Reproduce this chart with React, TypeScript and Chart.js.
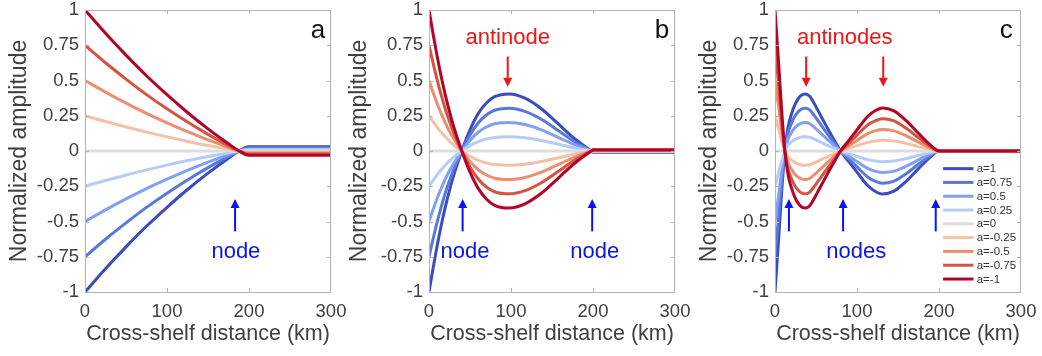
import React, { useEffect, useRef } from "react";
import { Chart, registerables } from "chart.js";
Chart.register(...registerables);

// ---------- data ----------
const seriesLabels = ["a=1", "a=0.75", "a=0.5", "a=0.25", "a=0", "a=-0.25", "a=-0.5", "a=-0.75", "a=-1"];
const seriesColors = [
  "rgb(59,76,192)",
  "rgb(88,120,222)",
  "rgb(128,160,242)",
  "rgb(180,204,246)",
  "rgb(221,221,221)",
  "rgb(244,192,168)",
  "rgb(236,142,112)",
  "rgb(212,84,66)",
  "rgb(180,4,38)",
];
const xTickLabels = ["0", "100", "200", "300"];
const yTickLabels = ["-1", "-0.75", "-0.5", "-0.25", "0", "0.25", "0.5", "0.75", "1"];

// Panel a
const xA = [0, 25, 50, 75, 100, 125, 150, 175, 188, 200, 300];
const a_p1 = [-1, -0.835, -0.68, -0.534, -0.399, -0.273, -0.157, -0.051, 0, 0.03, 0.03];
const a_p075 = [-0.75, -0.626, -0.51, -0.4, -0.299, -0.205, -0.118, -0.038, 0, 0.022, 0.022];
const a_p05 = [-0.5, -0.418, -0.34, -0.267, -0.2, -0.137, -0.079, -0.026, 0, 0.015, 0.015];
const a_p025 = [-0.25, -0.209, -0.17, -0.134, -0.1, -0.068, -0.039, -0.013, 0, 0.008, 0.008];
const a_0 = [0, 0, 0, 0, 0, 0, 0, 0, 0, 0, 0];
const a_m025 = [0.25, 0.209, 0.17, 0.134, 0.1, 0.068, 0.039, 0.013, 0, -0.008, -0.008];
const a_m05 = [0.5, 0.418, 0.34, 0.267, 0.2, 0.137, 0.079, 0.026, 0, -0.015, -0.015];
const a_m075 = [0.75, 0.626, 0.51, 0.4, 0.299, 0.205, 0.118, 0.038, 0, -0.022, -0.022];
const a_m1 = [1, 0.835, 0.68, 0.534, 0.399, 0.273, 0.157, 0.051, 0, -0.03, -0.03];

// Panel b
const xB = [0, 5, 10, 15, 20, 25, 30, 40, 50, 60, 70, 80, 98, 117, 137, 158, 178, 198, 200, 300];
const b_p1 = [-1, -0.83, -0.67, -0.525, -0.395, -0.28, -0.175, 0, 0.15, 0.265, 0.34, 0.385, 0.405, 0.375, 0.3, 0.19, 0.085, 0, -0.008, -0.008];
const b_p075 = [-0.75, -0.623, -0.503, -0.394, -0.296, -0.21, -0.131, 0, 0.113, 0.199, 0.255, 0.289, 0.304, 0.281, 0.225, 0.143, 0.064, 0, -0.006, -0.006];
const b_p05 = [-0.5, -0.415, -0.335, -0.263, -0.198, -0.14, -0.088, 0, 0.075, 0.133, 0.17, 0.193, 0.203, 0.188, 0.15, 0.095, 0.043, 0, -0.004, -0.004];
const b_p025 = [-0.25, -0.208, -0.168, -0.131, -0.099, -0.07, -0.044, 0, 0.038, 0.066, 0.085, 0.096, 0.101, 0.094, 0.075, 0.048, 0.021, 0, -0.002, -0.002];
const b_0 = [0, 0, 0, 0, 0, 0, 0, 0, 0, 0, 0, 0, 0, 0, 0, 0, 0, 0, 0, 0];
const b_m025 = [0.25, 0.208, 0.168, 0.131, 0.099, 0.07, 0.044, 0, -0.038, -0.066, -0.085, -0.096, -0.101, -0.094, -0.075, -0.048, -0.021, 0, 0.002, 0.002];
const b_m05 = [0.5, 0.415, 0.335, 0.263, 0.198, 0.14, 0.088, 0, -0.075, -0.133, -0.17, -0.193, -0.203, -0.188, -0.15, -0.095, -0.043, 0, 0.004, 0.004];
const b_m075 = [0.75, 0.623, 0.503, 0.394, 0.296, 0.21, 0.131, 0, -0.113, -0.199, -0.255, -0.289, -0.304, -0.281, -0.225, -0.143, -0.064, 0, 0.006, 0.006];
const b_m1 = [1, 0.83, 0.67, 0.525, 0.395, 0.28, 0.175, 0, -0.15, -0.265, -0.34, -0.385, -0.405, -0.375, -0.3, -0.19, -0.085, 0, 0.008, 0.008];

// Panel c
const xC = [0, 4, 8, 12, 16, 20, 24, 28, 32, 37, 42, 48, 54, 60, 70, 80, 90, 100, 113, 122, 131, 145, 160, 175, 190, 200, 300];
const c_p1 = [-1, -0.66, -0.3, 0, 0.17, 0.26, 0.325, 0.368, 0.395, 0.405, 0.39, 0.335, 0.27, 0.205, 0.1, 0, -0.075, -0.15, -0.245, -0.285, -0.305, -0.285, -0.215, -0.125, -0.04, 0, 0];
const c_p075 = [-0.75, -0.495, -0.225, 0, 0.128, 0.195, 0.244, 0.276, 0.296, 0.304, 0.293, 0.251, 0.203, 0.154, 0.075, 0, -0.056, -0.113, -0.184, -0.214, -0.229, -0.214, -0.161, -0.094, -0.03, 0, 0];
const c_p05 = [-0.5, -0.33, -0.15, 0, 0.085, 0.13, 0.163, 0.184, 0.198, 0.203, 0.195, 0.168, 0.135, 0.103, 0.05, 0, -0.038, -0.075, -0.123, -0.143, -0.153, -0.143, -0.108, -0.063, -0.02, 0, 0];
const c_p025 = [-0.25, -0.165, -0.075, 0, 0.043, 0.065, 0.081, 0.092, 0.099, 0.101, 0.098, 0.084, 0.068, 0.051, 0.025, 0, -0.019, -0.038, -0.061, -0.071, -0.076, -0.071, -0.054, -0.031, -0.01, 0, 0];
const c_0 = [0, 0, 0, 0, 0, 0, 0, 0, 0, 0, 0, 0, 0, 0, 0, 0, 0, 0, 0, 0, 0, 0, 0, 0, 0, 0, 0];
const c_m025 = [0.25, 0.165, 0.075, 0, -0.043, -0.065, -0.081, -0.092, -0.099, -0.101, -0.098, -0.084, -0.068, -0.051, -0.025, 0, 0.019, 0.038, 0.061, 0.071, 0.076, 0.071, 0.054, 0.031, 0.01, 0, 0];
const c_m05 = [0.5, 0.33, 0.15, 0, -0.085, -0.13, -0.163, -0.184, -0.198, -0.203, -0.195, -0.168, -0.135, -0.103, -0.05, 0, 0.038, 0.075, 0.123, 0.143, 0.153, 0.143, 0.108, 0.063, 0.02, 0, 0];
const c_m075 = [0.75, 0.495, 0.225, 0, -0.128, -0.195, -0.244, -0.276, -0.296, -0.304, -0.293, -0.251, -0.203, -0.154, -0.075, 0, 0.056, 0.113, 0.184, 0.214, 0.229, 0.214, 0.161, 0.094, 0.03, 0, 0];
const c_m1 = [1, 0.66, 0.3, 0, -0.17, -0.26, -0.325, -0.368, -0.395, -0.405, -0.39, -0.335, -0.27, -0.205, -0.1, 0, 0.075, 0.15, 0.245, 0.285, 0.305, 0.285, 0.215, 0.125, 0.04, 0, 0];

// ---------- annotations (data coordinates) ----------
type Arrow = { x: number; from: number; to: number; color: string };
type Label = { x: number; y: number; text: string; color: string; size: number };

const BLUE = "#0a14f0";
const RED = "#f01414";

const panels = [
  {
    key: "a",
    left: 0, width: 346, yAxisWidth: 85, padRight: 15,
    xs: xA,
    ys: [a_p1, a_p075, a_p05, a_p025, a_0, a_m025, a_m05, a_m075, a_m1],
    arrows: [{ x: 183, from: -0.57, to: -0.34, color: BLUE }] as Arrow[],
    labels: [
      { x: 184, y: -0.715, text: "node", color: BLUE, size: 22 },
      { x: 284, y: 0.85, text: "a", color: "#111", size: 26 },
    ] as Label[],
    legend: false,
  },
  {
    key: "b",
    left: 340, width: 353, yAxisWidth: 89, padRight: 18,
    xs: xB,
    ys: [b_p1, b_p075, b_p05, b_p025, b_0, b_m025, b_m05, b_m075, b_m1],
    arrows: [
      { x: 96, from: 0.67, to: 0.455, color: RED },
      { x: 41, from: -0.57, to: -0.34, color: BLUE },
      { x: 199, from: -0.57, to: -0.34, color: BLUE },
    ] as Arrow[],
    labels: [
      { x: 96, y: 0.8, text: "antinode", color: RED, size: 22 },
      { x: 44, y: -0.715, text: "node", color: BLUE, size: 22 },
      { x: 202, y: -0.715, text: "node", color: BLUE, size: 22 },
      { x: 284, y: 0.85, text: "b", color: "#111", size: 26 },
    ] as Label[],
    legend: false,
  },
  {
    key: "c",
    left: 690, width: 352, yAxisWidth: 85, padRight: 21,
    xs: xC,
    ys: [c_p1, c_p075, c_p05, c_p025, c_0, c_m025, c_m05, c_m075, c_m1],
    arrows: [
      { x: 38, from: 0.67, to: 0.455, color: RED },
      { x: 132, from: 0.67, to: 0.455, color: RED },
      { x: 17, from: -0.57, to: -0.34, color: BLUE },
      { x: 83, from: -0.57, to: -0.34, color: BLUE },
      { x: 196, from: -0.57, to: -0.34, color: BLUE },
    ] as Arrow[],
    labels: [
      { x: 85, y: 0.8, text: "antinodes", color: RED, size: 22 },
      { x: 99, y: -0.715, text: "nodes", color: BLUE, size: 22 },
      { x: 282, y: 0.85, text: "c", color: "#111", size: 26 },
    ] as Label[],
    legend: true,
  },
];

const FONT = "'Liberation Sans', Arial, sans-serif";

function makeDecorPlugin(panel: any) {
  return {
    id: "decor" + panel.key,
    afterDraw(chart: any) {
      const ctx = chart.ctx;
      const { left, right, top, bottom } = chart.chartArea;
      const xs = chart.scales.x;
      const ys = chart.scales.y;
      ctx.save();
      // frame
      ctx.strokeStyle = "#b4b4b4";
      ctx.lineWidth = 1;
      ctx.strokeRect(left + 0.5, top + 0.5, right - left - 1, bottom - top);
      // inward ticks
      ctx.beginPath();
      for (let i = 1; i < xTickLabels.length - 1; i++) {
        const px = Math.round(xs.getPixelForValue(Number(xTickLabels[i]))) + 0.5;
        ctx.moveTo(px, bottom);
        ctx.lineTo(px, bottom - 4);
        ctx.moveTo(px, top);
        ctx.lineTo(px, top + 4);
      }
      for (let i = 1; i < yTickLabels.length - 1; i++) {
        const py = Math.round(ys.getPixelForValue(Number(yTickLabels[i]))) + 0.5;
        ctx.moveTo(left, py);
        ctx.lineTo(left + 4, py);
        ctx.moveTo(right, py);
        ctx.lineTo(right - 4, py);
      }
      ctx.stroke();

      // arrows
      for (const a of panel.arrows as Arrow[]) {
        const px = xs.getPixelForValue(a.x);
        const p1 = ys.getPixelForValue(a.from);
        const p2 = ys.getPixelForValue(a.to);
        const dir = p2 < p1 ? -1 : 1;
        const head = 9;
        ctx.strokeStyle = a.color;
        ctx.fillStyle = a.color;
        ctx.lineWidth = 2;
        ctx.beginPath();
        ctx.moveTo(px, p1);
        ctx.lineTo(px, p2 - dir * head);
        ctx.stroke();
        ctx.beginPath();
        ctx.moveTo(px, p2);
        ctx.lineTo(px - 4.5, p2 - dir * head);
        ctx.lineTo(px + 4.5, p2 - dir * head);
        ctx.closePath();
        ctx.fill();
      }
      // labels
      ctx.textAlign = "center";
      ctx.textBaseline = "middle";
      for (const l of panel.labels as Label[]) {
        ctx.fillStyle = l.color;
        ctx.font = `${l.size}px ${FONT}`;
        ctx.fillText(l.text, xs.getPixelForValue(l.x), ys.getPixelForValue(l.y));
      }
      // legend
      if (panel.legend) {
        const x0 = xs.getPixelForValue(205);
        const x1 = xs.getPixelForValue(242);
        const xt = xs.getPixelForValue(246);
        let y = ys.getPixelForValue(-0.125);
        const step = 13.8;
        ctx.textAlign = "left";
        ctx.font = `11.5px ${FONT}`;
        for (let i = 0; i < seriesLabels.length; i++) {
          ctx.strokeStyle = seriesColors[i];
          ctx.lineWidth = 3;
          ctx.beginPath();
          ctx.moveTo(x0, y);
          ctx.lineTo(x1, y);
          ctx.stroke();
          ctx.fillStyle = "#333";
          ctx.fillText(seriesLabels[i], xt, y + 0.5);
          y += step;
        }
      }
      ctx.restore();
    },
  };
}

function Panel({ panel }: { panel: any }) {
  const ref = useRef<HTMLCanvasElement | null>(null);
  useEffect(() => {
    if (!ref.current) return;
    const datasets = panel.ys.map((arr: number[], i: number) => ({
      label: seriesLabels[i],
      data: arr.map((y: number, j: number) => ({ x: panel.xs[j], y })),
      borderColor: seriesColors[i],
      backgroundColor: seriesColors[i],
      borderWidth: 3,
      pointRadius: 0,
      cubicInterpolationMode: "monotone",
      fill: false,
      order: seriesLabels.length - 1 - i,
    }));
    const chart = new Chart(ref.current, {
      type: "line",
      data: { datasets },
      options: {
        responsive: false,
        maintainAspectRatio: false,
        animation: false,
        events: [],
        layout: { padding: { left: 0, top: 10, right: panel.padRight, bottom: 0 } },
        plugins: { legend: { display: false }, tooltip: { enabled: false } },
        scales: {
          x: {
            type: "linear",
            min: 0,
            max: 300,
            grid: { display: false, drawTicks: false },
            border: { display: false },
            afterBuildTicks: (s: any) => {
              s.ticks = xTickLabels.map((t) => ({ value: Number(t) }));
            },
            afterFit: (s: any) => {
              s.height = 64;
              s.paddingLeft = 0;
              s.paddingRight = 0;
            },
            ticks: {
              maxRotation: 0,
              autoSkip: false,
              padding: 9,
              color: "#404040",
              font: { family: FONT, size: 18.5 },
              callback: (v: any) => String(v),
            },
            title: {
              display: true,
              text: "Cross-shelf distance (km)",
              color: "#404040",
              font: { family: FONT, size: 21.5 },
              padding: { top: 0, bottom: 9 },
            },
          },
          y: {
            type: "linear",
            min: -1,
            max: 1,
            grid: { display: false, drawTicks: false },
            border: { display: false },
            afterBuildTicks: (s: any) => {
              s.ticks = yTickLabels.map((t) => ({ value: Number(t) }));
            },
            afterFit: (s: any) => {
              s.width = panel.yAxisWidth;
              s.paddingTop = 0;
              s.paddingBottom = 0;
            },
            ticks: {
              autoSkip: false,
              padding: 6,
              color: "#404040",
              font: { family: FONT, size: 18.5 },
              callback: (v: any) => String(Number(v)),
            },
            title: {
              display: true,
              text: "Normalized amplitude",
              color: "#404040",
              font: { family: FONT, size: 23 },
              padding: { top: 6, bottom: 0 },
            },
          },
        },
      },
      plugins: [makeDecorPlugin(panel)],
    } as any);
    return () => chart.destroy();
  }, [panel]);
  return (
    <canvas
      ref={ref}
      width={panel.width}
      height={356}
      style={{ position: "absolute", left: panel.left, top: 0, width: panel.width, height: 356 }}
    />
  );
}

export default function App() {
  return (
    <div style={{ position: "fixed", left: 0, top: 0, width: 1042, height: 356, background: "#fff", overflow: "hidden" }}>
      {panels.map((p) => (
        <Panel key={p.key} panel={p} />
      ))}
    </div>
  );
}
